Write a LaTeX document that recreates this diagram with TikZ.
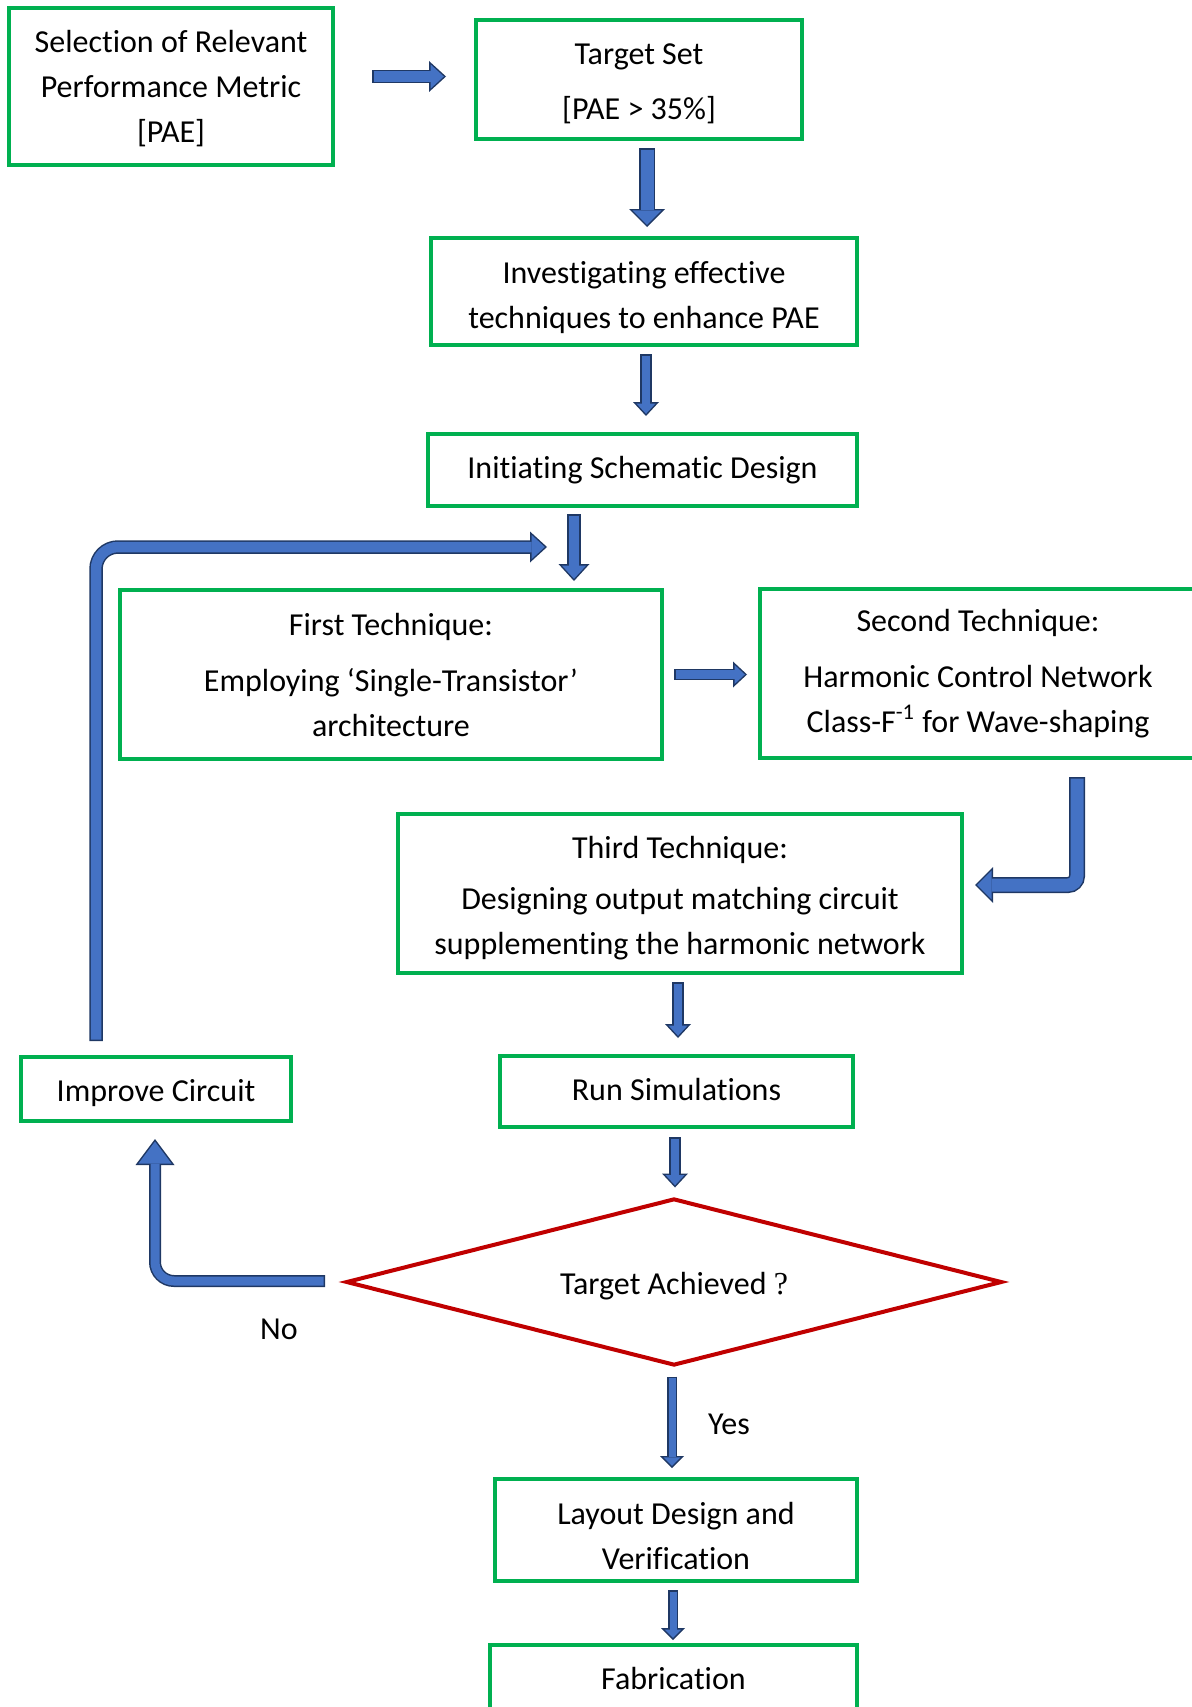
\documentclass[tikz,border=0pt]{standalone}
\usepackage{fontspec}
\setmainfont{Carlito}[Ligatures={TeX,NoCommon}]
\newfontfamily\qfont{Liberation Serif}
\usepackage{xcolor}
\usepackage{tikz}
\usetikzlibrary{shapes,arrows.meta,calc}

\definecolor{boxgreen}{RGB}{0,176,80}
\definecolor{decred}{RGB}{192,0,0}
\definecolor{arrowfill}{RGB}{68,114,196}
\definecolor{arrowedge}{RGB}{31,56,100}

% taller first line, pushes a text block down a little
\newcommand{\topgap}[1]{\rule{0pt}{#1}}
% shift a one-line text without changing its box
\newcommand{\nudge}[2]{\raisebox{#1}[\height][\depth]{#2}}

\tikzset{
    stage/.style={draw=boxgreen, line width=2pt, align=center, inner sep=0pt},
    decision/.style={diamond, draw=decred, line width=2pt, inner sep=0pt, aspect=4},
    % block arrows: dark pass first, blue pass on top
    large out/.style={draw=arrowedge, line width=8pt, -{Triangle[width=18pt,length=9pt,line width=0pt]}},
    large in/.style={draw=arrowfill, line width=6.5pt, shorten <=0.75pt, shorten >=1.06pt, -{Triangle[width=14.4pt,length=7.2pt,line width=0pt]}},
    medium out/.style={draw=arrowedge, line width=6.75pt, -{Triangle[width=15.5pt,length=8.5pt,line width=0pt]}},
    medium in/.style={draw=arrowfill, line width=5.25pt, shorten <=0.75pt, shorten >=1.11pt, -{Triangle[width=12.1pt,length=6.6pt,line width=0pt]}},
    small out/.style={draw=arrowedge, line width=5.75pt, -{Triangle[width=13pt,length=7pt,line width=0pt]}},
    small in/.style={draw=arrowfill, line width=4.25pt, shorten <=0.75pt, shorten >=1.1pt, -{Triangle[width=9.6pt,length=5.15pt,line width=0pt]}},
    thin out/.style={draw=arrowedge, line width=5pt, -{Triangle[width=12pt,length=6pt,line width=0pt]}},
    thin in/.style={draw=arrowfill, line width=3.5pt, shorten <=0.75pt, shorten >=1.06pt, -{Triangle[width=8.4pt,length=4.2pt,line width=0pt]}},
    wide out/.style={draw=arrowedge, line width=6pt, -{Triangle[width=19.5pt,length=13pt,line width=0pt]}},
    wide in/.style={draw=arrowfill, line width=4.5pt, shorten <=0.75pt, shorten >=1.25pt, -{Triangle[width=16.5pt,length=11pt,line width=0pt]}},
}

\newcommand{\blockarrow}[3][]{%
    \draw[#2 out,#1] #3;
    \draw[#2 in,#1] #3;
}

\begin{document}
\begin{tikzpicture}[x=0.5pt,y=-0.5pt, every node/.style={font=\fontsize{16}{22.5}\selectfont}]
    \clip (0,0) rectangle (1192,1707);

    % Design stages
    \node[stage, minimum width=162pt, minimum height=78.5pt] (sel) at (171,86.5) {\topgap{13.4pt}Selection of Relevant\\Performance Metric\\{[PAE]}};
    \node[stage, minimum width=163pt, minimum height=59.5pt] (tgt) at (639,79.5) {\topgap{14.7pt}Target Set\\[5pt]{[PAE > 35\%]}};
    \node[stage, minimum width=213pt, minimum height=53.5pt] (inv) at (644,291.5) {\topgap{16.9pt}Investigating effective\\techniques to enhance PAE};
    \node[stage, minimum width=214.5pt, minimum height=36pt] (init) at (642.5,470) {Initiating Schematic Design};
    \node[stage, minimum width=271pt, minimum height=84.5pt] (first) at (391,674.5) {First Technique:\\[5.5pt]Employing `Single-Transistor'\\architecture};
    \node[stage, minimum width=218pt, minimum height=84.5pt] (second) at (978,673.5) {Second Technique:\\[5.5pt]Harmonic Control Network\\Class-F\textsuperscript{-1} for Wave-shaping};
    \node[stage, minimum width=282pt, minimum height=79.5pt] (third) at (680,893.5) {\topgap{15.8pt}Third Technique:\\[3pt]Designing output matching circuit\\supplementing the harmonic network};
    \node[stage, minimum width=135pt, minimum height=32pt] (imp) at (156,1089) {\nudge{-2.2pt}{Improve Circuit}};
    \node[stage, minimum width=176.5pt, minimum height=35.5pt] (run) at (676.5,1091.5) {\nudge{1pt}{Run Simulations}};
    \node[decision, minimum width=328pt, minimum height=83.5pt] (dia) at (674,1282) {\nudge{-2.2pt}{Target Achieved {\qfont ?}}};
    \node[stage, minimum width=181pt, minimum height=51pt] (lay) at (676,1530) {\topgap{16.8pt}Layout Design and\\Verification};
    \node[stage, minimum width=183.5pt, minimum height=35pt] (fab) at (673.5,1680) {\nudge{1pt}{Fabrication}};

    % Branch labels
    \node (no) at (279,1329) {No};
    \node (yes) at (729,1424) {Yes};

    % Flow
    \blockarrow{medium}{($(sel.east)+(37,-10)$) -- ($(tgt.west)+(-28,-3)$)}
    \blockarrow{large}{($(tgt.south)+(8,7)$) -- ($(inv.north)+(3,-9)$)}
    \blockarrow{small}{($(inv.south)+(2,7)$) -- ($(init.north)+(3.5,-16)$)}
    \blockarrow{medium}{($(init.south)+(-68.5,6)$) -- ($(first.north)+(183,-7)$)}
    \blockarrow{small}{($(first.east)+(10,0)$) -- ($(second.west)+(-11,1)$)}
    \blockarrow[rounded corners=4.5pt]{large}{($(second.south)+(99,17)$) |- ($(third.east)+(11,-8.5)$)}
    \blockarrow{small}{($(third.south)+(-2,7)$) -- ($(run.north)+(1.5,-16)$)}
    \blockarrow{small}{($(run.south)+(-1.5,8)$) -- ($(dia.north)+(1,-9)$)}
    \blockarrow{thin}{($(dia.south)+(-2,9)$) -- ($(lay.north)+(-4,-9)$)}
    \blockarrow{thin}{($(lay.south)+(-3,7)$) -- ($(fab.north)+(-0.5,-3)$)}

    % No branch and loop back
    \blockarrow[rounded corners=9.5pt]{wide}{($(dia.west)+(-19,-1)$) -| ($(imp.south)+(-1,16)$)}
    \blockarrow[rounded corners=11pt]{medium}{($(imp.north)+(-60,-14)$) |- ($(first.north)+(156,-41)$)}
\end{tikzpicture}
\end{document}
